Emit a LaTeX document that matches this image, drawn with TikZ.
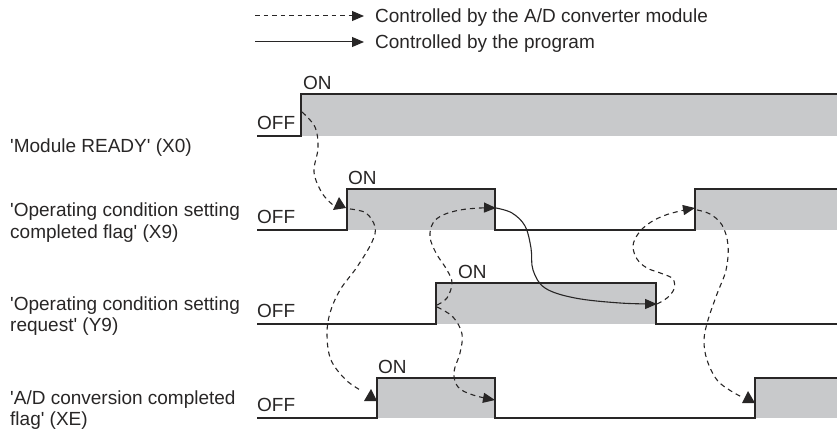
\documentclass[tikz,border=0pt]{standalone}
\usepackage{fontspec}
\setmainfont{Liberation Sans}
\usetikzlibrary{arrows.meta}
\definecolor{sig}{RGB}{200,201,203}
\definecolor{ink}{RGB}{40,38,38}
\newcommand\myq{\textquotesingle}
\begin{document}
\begin{tikzpicture}[x=1pt,y=-1pt,
  font=\fontsize{19}{21.5}\selectfont,
  wave/.style={draw=ink, line width=1.2pt},
  dashline/.style={draw=ink, line width=1.1pt, dash pattern=on 5pt off 4pt},
  prog/.style={draw=ink, line width=1.1pt},
  tip/.style={-{Triangle[length=12pt,width=10pt]}},
  lbl/.style={anchor=base west, inner sep=0pt, text=ink},
  marker/.style={fill=ink}]
\useasboundingbox (0,0) rectangle (837,438);

% legend
\coordinate (l1a) at (255,16); \coordinate (l1b) at (364,16);
\coordinate (l2a) at (255,42); \coordinate (l2b) at (364,42);
\draw[draw=ink, line width=1pt, dash pattern=on 4.5pt off 4pt, tip] (l1a) -- (l1b);
\draw[prog, line width=1pt, tip] (l2a) -- (l2b);
\node[lbl] (leg1) at (375,23) {Controlled by the A/D converter module};
\node[lbl] (leg2) at (375,49) {Controlled by the program};

% signal names (base = last line)
\node[lbl] (nx0) at (10,153) {\myq Module READY\myq{} (X0)};
\node[lbl, align=left] (nx9) at (10,238.5) {\myq Operating condition setting\\completed flag\myq{} (X9)};
\node[lbl, align=left] (ny9) at (10,331.5) {\myq Operating condition setting\\request\myq{} (Y9)};
\node[lbl, align=left] (nxe) at (10,425.5) {\myq A/D conversion completed\\flag\myq{} (XE)};

% X0
\fill[sig] (301,94) rectangle (837,136);
\draw[wave] (257,136) -- (301,136) -- (301,94) -- (837,94);
% X9
\fill[sig] (347,189) rectangle (495,230);
\fill[sig] (695,189) rectangle (837,230);
\draw[wave] (257,230) -- (347,230) -- (347,189) -- (495,189) -- (495,230) -- (695,230) -- (695,189) -- (837,189);
% Y9
\fill[sig] (436,283) rectangle (656,324);
\draw[wave] (257,324) -- (436,324) -- (436,283) -- (656,283) -- (656,324) -- (837,324);
% XE
\fill[sig] (377,378) rectangle (495,418);
\fill[sig] (755,378) rectangle (837,418);
\draw[wave] (257,418) -- (377,418) -- (377,378) -- (495,378) -- (495,418) -- (755,418) -- (755,378) -- (837,378);

% ON / OFF
\node[lbl] (off0) at (257,130) {OFF};
\node[lbl] (off9) at (257,223.5) {OFF};
\node[lbl] (offy) at (257,317.5) {OFF};
\node[lbl] (offe) at (257,411.5) {OFF};
\node[lbl] (on0) at (303,89.5) {ON};
\node[lbl] (on9) at (348,184.5) {ON};
\node[lbl] (ony) at (458,278.5) {ON};
\node[lbl] (one) at (378,373.5) {ON};

% connector end points
\coordinate (a1) at (302,112); \coordinate (b1) at (333,205);
\coordinate (a2) at (350,209); \coordinate (b2) at (362,391);
\coordinate (a3) at (437,305); \coordinate (b3) at (496,208);
\coordinate (a4) at (437,307); \coordinate (b4) at (495,400);
\coordinate (a5) at (496,208); \coordinate (b5) at (657,304);
\coordinate (a6) at (657,304); \coordinate (b6) at (695,208);
\coordinate (a7) at (697,210); \coordinate (b7) at (742,397);

% connectors
\draw[dashline] plot[smooth, tension=0.6] coordinates {(a1) (315,127) (318,148) (314,172) (322,193) (b1)};
\fill[marker] (333,210) -- (346,208) -- (339,197) -- cycle;

\draw[dashline] plot[smooth, tension=0.6] coordinates {(a2) (366,213) (375,227) (372,242) (357,267) (340,290) (330,313) (327,335) (331,360) (346,380) (b2)};
\fill[marker] (364,401) -- (377,401) -- (371,389) -- cycle;

\draw[dashline, tip] plot[smooth, tension=0.6] coordinates {(a3) (447,298) (452,283) (447,270) (436,253) (430,237) (433,223) (443,215) (460,210) (480,208) (b3)};

\draw[dashline, tip] plot[smooth, tension=0.6] coordinates {(a4) (453,317) (462,334) (460,353) (454,372) (458,387) (473,395) (b4)};

\draw[prog, tip] plot[smooth, tension=0.6] coordinates {(a5) (512,213) (525,226) (531,248) (533,270) (545,288) (575,298) (620,303) (b5)};

\draw[dashline, tip] plot[smooth, tension=0.6] coordinates {(a6) (667,298) (674,289) (673,279) (663,274) (647,268) (637,259) (633,246) (638,234) (648,224) (663,216) (680,211) (b6)};

\draw[dashline] plot[smooth, tension=0.6] coordinates {(a7) (710,214) (722,225) (728,245) (726,270) (717,294) (708,320) (704,340) (707,360) (717,380) (731,391) (b7)};
\fill[marker] (742,403) -- (755,403) -- (748,391) -- cycle;
\end{tikzpicture}
\end{document}
